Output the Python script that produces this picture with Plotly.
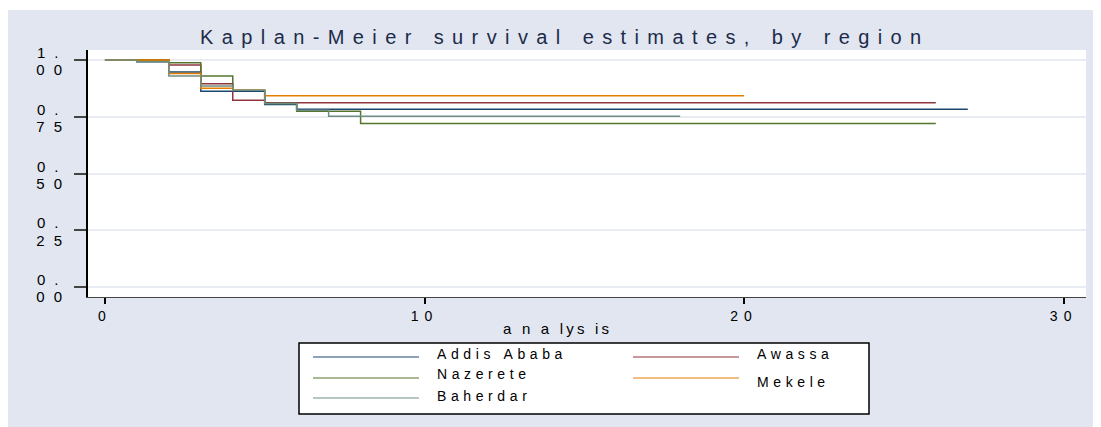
import plotly.graph_objects as go

# ---------------- data ----------------
regions = ["Addis Ababa", "Awassa", "Nazerete", "Mekele", "Baherdar"]
colors = ["#1a476f", "#90353b", "#55752f", "#e37e00", "#6e8e84"]

t_addis = [0, 1, 2, 3, 5, 6, 27]
s_addis = [1.0, 0.992, 0.947, 0.862, 0.804, 0.783, 0.783]

t_awassa = [0, 2, 3, 4, 5, 26]
s_awassa = [1.0, 0.978, 0.895, 0.823, 0.812, 0.812]

t_nazerete = [0, 2, 3, 4, 5, 6, 8, 26]
s_nazerete = [1.0, 0.988, 0.929, 0.867, 0.808, 0.774, 0.720, 0.720]

t_mekele = [0, 2, 3, 4, 5, 20]
s_mekele = [1.0, 0.941, 0.875, 0.867, 0.842, 0.842]

t_baherdar = [0, 1, 2, 3, 4, 5, 6, 7, 18]
s_baherdar = [1.0, 0.992, 0.929, 0.885, 0.867, 0.808, 0.779, 0.752, 0.752]

times = [t_addis, t_awassa, t_nazerete, t_mekele, t_baherdar]
surv = [s_addis, s_awassa, s_nazerete, s_mekele, s_baherdar]

x_ticks = [0, 10, 20, 30]
x_ticklabels = ["0", "10", "20", "30"]
y_ticks = [0.0, 0.25, 0.5, 0.75, 1.0]
y_tick_line1 = ["0.", "0.", "0.", "0.", "1."]
y_tick_line2 = ["00", "25", "50", "75", "00"]

title_text = "Kaplan-Meier survival estimates, by region"
xaxis_title = "a n a lys is"

# ---------------- layout helpers (screenshot pixel coords) ----------------
OFF = 8                       # page body margin
W, H = 1101 - OFF, 427 - OFF  # figure size
L, R, T, B = 88, 1086, 50, 297
XR = [-0.53, 30.7]
YR = [-0.044, 1.044]
FONT = "Liberation Sans, Arial, sans-serif"
PANEL = "#e1e6f0"


def ls(s, sp):
    return '<span style="letter-spacing:%spx">%s</span>' % (sp, s.replace(" ", "\u00a0"))


def px(x):
    return (x - L) / (R - L)


def py(y):
    return (B - y) / (B - T)


def ypix(v):
    return B - (v - YR[0]) / (YR[1] - YR[0]) * (B - T)


fig = go.Figure()
for name, t, s, c in zip(regions, times, surv, colors):
    fig.add_trace(go.Scatter(x=t, y=s, mode="lines", name=name,
                             line=dict(color=c, width=1.5, shape="hv"),
                             showlegend=False))

shapes = [
    dict(type="rect", xref="paper", yref="paper", x0=px(0), x1=px(1101), y0=py(10), y1=py(0),
         fillcolor="white", line_width=0, layer="below"),
    # legend box
    dict(type="rect", xref="paper", yref="paper", x0=px(299), x1=px(869), y0=py(414), y1=py(343),
         fillcolor="white", line=dict(color="black", width=1.5)),
]
annotations = [
    dict(text=ls(title_text, 8.4), x=px(565), y=py(37), xref="paper", yref="paper",
         showarrow=False, xanchor="center", yanchor="middle",
         font=dict(family=FONT, size=20, color="#1c2b4a")),
    dict(text=ls(xaxis_title, 3.2), x=px(557), y=py(328), xref="paper", yref="paper",
         showarrow=False, xanchor="center", yanchor="middle",
         font=dict(family=FONT, size=15, color="black")),
]

# y tick labels: first line as annotation, second line as (partly clipped) tick label
for v, l1 in zip(y_ticks, y_tick_line1):
    annotations.append(dict(text=ls(l1, 9), x=px(35), y=v, xref="paper", yref="y",
                            yshift=7.5, showarrow=False, xanchor="left", yanchor="middle",
                            font=dict(family=FONT, size=15, color="black")))
    yp = ypix(v)
    shapes.append(dict(type="rect", xref="paper", yref="paper", layer="above",
                       x0=px(28), x1=px(74), y0=py(yp + 22), y1=py(yp + 16),
                       fillcolor=PANEL, line_width=0))

leg_pos = [(313, 357, 435, 354), (633, 357, 755, 354),
           (313, 378, 435, 374), (633, 378, 755, 382),
           (313, 398, 435, 396)]
for name, c, (lx, ly, tx, ty) in zip(regions, colors, leg_pos):
    shapes.append(dict(type="line", xref="paper", yref="paper", x0=px(lx), x1=px(lx + 106),
                       y0=py(ly), y1=py(ly), line=dict(color=c, width=1.2)))
    annotations.append(dict(text=ls(name, 4.6), x=px(tx), y=py(ty), xref="paper", yref="paper",
                            showarrow=False, xanchor="left", yanchor="middle",
                            font=dict(family=FONT, size=14, color="black")))

y_ticktext = [ls(s, 9) for s in y_tick_line2]
x_ticktext = [ls(s, 6) for s in x_ticklabels]

fig.update_layout(
    width=W, height=H,
    margin=dict(l=L - OFF, r=1101 - R, t=T - OFF, b=427 - B, pad=0),
    paper_bgcolor=PANEL, plot_bgcolor="white",
    shapes=shapes, annotations=annotations,
    showlegend=False,
    font=dict(family=FONT, color="black"),
)
fig.update_xaxes(range=XR, tickvals=x_ticks, ticktext=x_ticktext,
                 showgrid=False, zeroline=False, showline=True, linecolor="#444", linewidth=1.2,
                 ticks="outside", ticklen=6, tickcolor="black", tickwidth=1.5,
                 tickfont=dict(family=FONT, size=14, color="black"))
fig.update_yaxes(range=YR, tickvals=y_ticks, ticktext=y_ticktext,
                 showgrid=True, gridcolor="#e9edf3", gridwidth=1.5, zeroline=False,
                 showline=True, linecolor="black", linewidth=2,
                 ticks="outside", ticklen=12, tickcolor="#444", tickwidth=1.5,
                 ticklabelshift=10,
                 tickfont=dict(family=FONT, size=15, color="black"))

fig.write_html("out.html")
